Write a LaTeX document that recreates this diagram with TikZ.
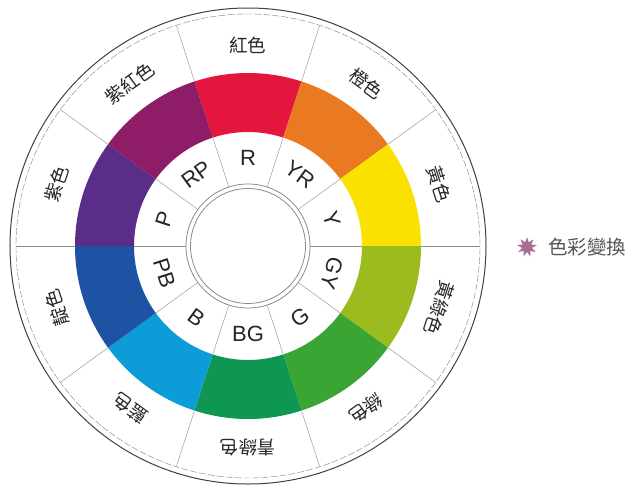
\documentclass[tikz,border=0pt]{standalone}
\usepackage{fontspec}
\setmainfont{Liberation Sans}
\newfontfamily\cjk{Noto Sans CJK TC}
\usetikzlibrary{shapes.geometric}
\definecolor{cR}{RGB}{228,22,62}
\definecolor{cYR}{RGB}{233,122,34}
\definecolor{cY}{RGB}{250,226,0}
\definecolor{cGY}{RGB}{156,187,30}
\definecolor{cG}{RGB}{58,165,50}
\definecolor{cBG}{RGB}{14,150,82}
\definecolor{cB}{RGB}{12,156,216}
\definecolor{cPB}{RGB}{30,82,162}
\definecolor{cP}{RGB}{90,46,136}
\definecolor{cRP}{RGB}{142,28,102}
\definecolor{starc}{RGB}{165,110,150}
\definecolor{legtxt}{RGB}{85,85,85}
\tikzset{
  divider/.style={draw=black!45, line width=0.4pt},
  outerlab/.style={font=\cjk\fontsize{18.5}{18.5}\selectfont, inner sep=0pt, text=black!85},
  innerlab/.style={font=\fontsize{22}{22}\selectfont, inner sep=0pt, text=black!85},
}
\begin{document}
\begin{tikzpicture}[x=1pt,y=1pt]
\useasboundingbox[fill=white] (-248,-242) rectangle (386,246);
% colour ring
\foreach \a/\c in {72/cR,36/cYR,0/cY,-36/cGY,-72/cG,-108/cBG,-144/cB,180/cPB,144/cP,108/cRP}{
  \fill[\c] (\a:173pt) arc[start angle=\a, end angle=\a+36, radius=173pt]
     -- (\a+36:114pt) arc[start angle=\a+36, end angle=\a, radius=114pt] -- cycle;
}
% dividers
\foreach \b in {0,36,...,324}{
  \draw[divider] (\b:173pt) -- (\b:232pt);
  \draw[divider] (\b:62pt) -- (\b:114pt);
}
% circles
\draw[black!75, line width=1pt] (0,0) circle[radius=238pt];
\draw[black!50, line width=0.4pt, dash pattern=on 7pt off 2pt] (0,0) circle[radius=232pt];
\draw[black!45, line width=0.8pt] (0,0) circle[radius=62pt];
\draw[black!45, line width=0.8pt] (0,0) circle[radius=57.5pt];
% outer labels
\foreach \n/\a/\t in {o1/90/紅色,o2/54/橙色,o3/18/黃色,o4/-18/黃綠色,o5/-54/綠色,o6/-90/青綠色,o7/-126/藍色,o8/-162/靛色,o9/162/紫色,o10/126/紫紅色}{
  \node[outerlab, rotate=\a-90] (\n) at (\a:201pt) {\t};
}
% inner labels
\foreach \n/\a/\r/\t in {i1/90/0/R,i2/54/-36/YR,i3/18/-72/Y,i4/-18/-108/GY,i5/-54/36/G,i6/-90/0/BG,i7/-126/-36/B,i8/-162/-72/PB,i9/162/72/P,i10/126/36/RP}{
  \node[innerlab, rotate=\r] (\n) at (\a:88pt) {\t};
}
% legend
\node[star, star points=9, star point ratio=2.0, fill=starc, minimum size=20pt, inner sep=0pt] (legstar) at (279,-1) {};
\node[anchor=west, inner sep=0pt, font=\cjk\fontsize{19.5}{19.5}\selectfont, text=legtxt] (legtext) at (300,-1) {色彩變換};
\end{tikzpicture}
\end{document}
